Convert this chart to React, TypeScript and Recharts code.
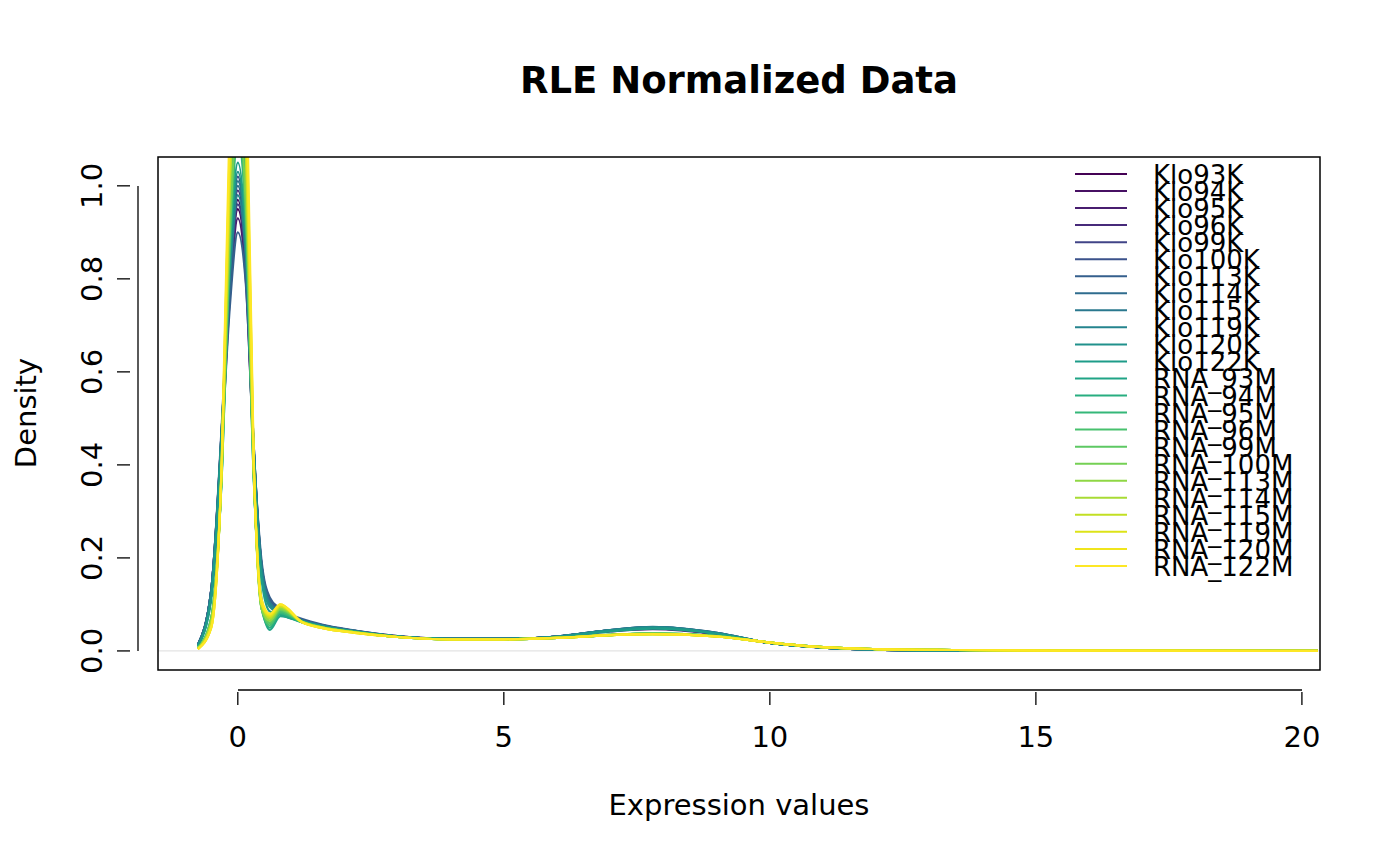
import { LineChart, Line, XAxis, YAxis, ReferenceLine } from 'recharts'

const xGrid = [-0.75, -0.5, -0.3, -0.15, 0, 0.15, 0.3, 0.45, 0.6, 0.8, 1.2, 1.6, 2.2, 3, 4, 5, 6, 7, 7.8, 9, 10, 11, 12, 13.5, 16, 20.3]

const sampleNames = [
  'Klo93K', 'Klo94K', 'Klo95K', 'Klo96K', 'Klo99K', 'Klo100K', 'Klo113K', 'Klo114K', 'Klo115K', 'Klo119K', 'Klo120K', 'Klo122K',
  'RNA_93M', 'RNA_94M', 'RNA_95M', 'RNA_96M', 'RNA_99M', 'RNA_100M', 'RNA_113M', 'RNA_114M', 'RNA_115M', 'RNA_119M', 'RNA_120M', 'RNA_122M',
]

const colors = [
  '#440154', '#471063', '#481D6F', '#472A7A', '#414487', '#3B528B', '#355F8D', '#2F6C8E', '#2A788E', '#25848E', '#21918C', '#1E9C89',
  '#20A486', '#28AE80', '#35B779', '#48C16E', '#5DC863', '#75D054', '#8FD744', '#A8DB34', '#C2DF23', '#DDE318', '#F0E51C', '#FDE725',
]

// density values per sample, one per xGrid point
const densities = [
  [0.012, 0.12, 0.46, 0.78, 0.95, 0.82, 0.42, 0.17, 0.105, 0.085, 0.066, 0.054, 0.042, 0.031, 0.026, 0.026, 0.031, 0.043, 0.048, 0.037, 0.017, 0.007, 0.003, 0.001, 0.0003, 0],
  [0.013, 0.13, 0.47, 0.79, 0.97, 0.83, 0.43, 0.17, 0.100, 0.082, 0.065, 0.053, 0.041, 0.031, 0.026, 0.026, 0.031, 0.044, 0.049, 0.037, 0.017, 0.007, 0.003, 0.001, 0.0003, 0],
  [0.012, 0.12, 0.45, 0.76, 0.93, 0.80, 0.42, 0.18, 0.110, 0.088, 0.067, 0.055, 0.043, 0.032, 0.026, 0.026, 0.030, 0.042, 0.047, 0.036, 0.017, 0.007, 0.003, 0.001, 0.0003, 0],
  [0.013, 0.13, 0.48, 0.81, 0.99, 0.85, 0.43, 0.17, 0.102, 0.084, 0.066, 0.054, 0.042, 0.031, 0.026, 0.026, 0.031, 0.044, 0.050, 0.038, 0.017, 0.007, 0.003, 0.001, 0.0003, 0],
  [0.012, 0.12, 0.46, 0.78, 0.96, 0.83, 0.43, 0.18, 0.108, 0.087, 0.067, 0.055, 0.043, 0.031, 0.026, 0.026, 0.031, 0.043, 0.049, 0.037, 0.017, 0.007, 0.003, 0.001, 0.0003, 0],
  [0.013, 0.13, 0.49, 0.83, 1.02, 0.87, 0.44, 0.17, 0.100, 0.082, 0.065, 0.053, 0.042, 0.031, 0.026, 0.026, 0.031, 0.044, 0.050, 0.038, 0.017, 0.007, 0.003, 0.001, 0.0003, 0],
  [0.014, 0.13, 0.45, 0.74, 0.90, 0.79, 0.43, 0.19, 0.115, 0.090, 0.069, 0.056, 0.044, 0.032, 0.026, 0.026, 0.031, 0.045, 0.051, 0.039, 0.017, 0.007, 0.003, 0.001, 0.0003, 0],
  [0.013, 0.13, 0.48, 0.82, 1.00, 0.86, 0.44, 0.18, 0.105, 0.085, 0.066, 0.054, 0.043, 0.031, 0.026, 0.026, 0.031, 0.045, 0.051, 0.039, 0.017, 0.007, 0.003, 0.001, 0.0003, 0],
  [0.012, 0.13, 0.48, 0.82, 1.01, 0.87, 0.44, 0.18, 0.104, 0.084, 0.066, 0.054, 0.043, 0.031, 0.026, 0.026, 0.031, 0.045, 0.052, 0.039, 0.017, 0.007, 0.003, 0.001, 0.0003, 0],
  [0.012, 0.12, 0.47, 0.80, 0.98, 0.85, 0.43, 0.17, 0.100, 0.083, 0.065, 0.054, 0.042, 0.031, 0.026, 0.026, 0.031, 0.044, 0.051, 0.038, 0.017, 0.007, 0.003, 0.001, 0.0003, 0],
  [0.011, 0.12, 0.48, 0.84, 1.03, 0.88, 0.43, 0.16, 0.095, 0.080, 0.064, 0.053, 0.042, 0.031, 0.026, 0.026, 0.031, 0.044, 0.050, 0.038, 0.017, 0.007, 0.003, 0.001, 0.0003, 0],
  [0.010, 0.11, 0.47, 0.85, 1.05, 0.89, 0.42, 0.15, 0.085, 0.078, 0.063, 0.052, 0.041, 0.031, 0.026, 0.026, 0.030, 0.042, 0.048, 0.037, 0.017, 0.007, 0.003, 0.001, 0.0003, 0],
  [0.006, 0.07, 0.38, 0.88, 1.12, 0.94, 0.37, 0.10, 0.045, 0.075, 0.062, 0.051, 0.041, 0.031, 0.025, 0.025, 0.028, 0.034, 0.037, 0.032, 0.018, 0.008, 0.004, 0.002, 0.0005, 0],
  [0.006, 0.07, 0.39, 0.93, 1.20, 1.00, 0.38, 0.09, 0.050, 0.080, 0.062, 0.050, 0.040, 0.030, 0.025, 0.025, 0.028, 0.034, 0.037, 0.032, 0.018, 0.008, 0.004, 0.002, 0.0005, 0],
  [0.007, 0.07, 0.38, 0.86, 1.10, 0.92, 0.37, 0.11, 0.060, 0.082, 0.063, 0.051, 0.041, 0.031, 0.025, 0.025, 0.028, 0.035, 0.038, 0.032, 0.018, 0.008, 0.004, 0.002, 0.0005, 0],
  [0.006, 0.06, 0.39, 0.96, 1.25, 1.04, 0.38, 0.09, 0.055, 0.085, 0.062, 0.050, 0.040, 0.030, 0.025, 0.025, 0.028, 0.034, 0.037, 0.032, 0.018, 0.008, 0.004, 0.002, 0.0005, 0],
  [0.005, 0.06, 0.40, 0.99, 1.30, 1.08, 0.39, 0.09, 0.060, 0.088, 0.062, 0.050, 0.040, 0.030, 0.025, 0.025, 0.028, 0.034, 0.037, 0.032, 0.018, 0.008, 0.004, 0.002, 0.0005, 0],
  [0.006, 0.07, 0.39, 0.90, 1.15, 0.96, 0.38, 0.10, 0.065, 0.090, 0.063, 0.050, 0.040, 0.030, 0.025, 0.025, 0.028, 0.035, 0.038, 0.032, 0.018, 0.008, 0.004, 0.002, 0.0005, 0],
  [0.005, 0.06, 0.40, 1.04, 1.40, 1.16, 0.39, 0.09, 0.065, 0.092, 0.062, 0.049, 0.040, 0.030, 0.025, 0.025, 0.028, 0.034, 0.036, 0.031, 0.018, 0.008, 0.004, 0.002, 0.0005, 0],
  [0.005, 0.06, 0.40, 1.02, 1.35, 1.12, 0.39, 0.10, 0.070, 0.095, 0.063, 0.050, 0.040, 0.030, 0.025, 0.025, 0.028, 0.034, 0.036, 0.031, 0.018, 0.008, 0.004, 0.002, 0.0005, 0],
  [0.005, 0.06, 0.40, 0.99, 1.30, 1.08, 0.39, 0.10, 0.072, 0.096, 0.063, 0.050, 0.040, 0.030, 0.025, 0.025, 0.028, 0.034, 0.036, 0.031, 0.018, 0.008, 0.004, 0.002, 0.0005, 0],
  [0.004, 0.05, 0.41, 1.10, 1.50, 1.24, 0.40, 0.10, 0.075, 0.098, 0.062, 0.049, 0.039, 0.030, 0.025, 0.025, 0.028, 0.034, 0.036, 0.031, 0.018, 0.008, 0.004, 0.002, 0.0005, 0],
  [0.004, 0.05, 0.41, 1.08, 1.45, 1.20, 0.40, 0.10, 0.078, 0.100, 0.063, 0.049, 0.039, 0.030, 0.025, 0.025, 0.028, 0.034, 0.036, 0.031, 0.018, 0.008, 0.004, 0.002, 0.0005, 0],
  [0.004, 0.05, 0.42, 1.16, 1.60, 1.32, 0.41, 0.11, 0.080, 0.100, 0.062, 0.049, 0.039, 0.030, 0.025, 0.025, 0.028, 0.034, 0.036, 0.031, 0.018, 0.008, 0.004, 0.002, 0.0005, 0],
]

const xTicks = [0, 5, 10, 15, 20]
const yTicks = [0, 0.2, 0.4, 0.6, 0.8, 1.0]

const chartData = xGrid.map((x, i) => {
  const row: Record<string, number> = { x }
  sampleNames.forEach((name, s) => {
    row[name] = densities[s][i]
  })
  return row
})

const FONT = 'DejaVu Sans, sans-serif'

function XTick(props: any) {
  const { x, y, payload } = props
  return (
    <g>
      <line x1={x} y1={y + 14} x2={x} y2={y + 27} stroke="#000" strokeWidth={1.3} />
      <text x={x} y={y + 69} textAnchor="middle" fontSize={29} fontFamily={FONT} fill="#000">
        {payload.value}
      </text>
    </g>
  )
}

function YTick(props: any) {
  const { x, y, payload } = props
  return (
    <g>
      <line x1={x - 20} y1={y} x2={x - 33} y2={y} stroke="#000" strokeWidth={1.3} />
      <text
        x={x - 44}
        y={y}
        textAnchor="middle"
        fontSize={29}
        fontFamily={FONT}
        fill="#000"
        transform={`rotate(-90 ${x - 44} ${y})`}
        dy={-4}
      >
        {payload.value.toFixed(1)}
      </text>
    </g>
  )
}

export default function App() {
  return (
    <div style={{ position: 'absolute', left: 0, top: 0, width: 1400, height: 866, background: '#fff', fontFamily: FONT }}>
      <LineChart width={1400} height={866} data={chartData} margin={{ top: 157, right: 80, bottom: 0, left: 0 }}>
        <XAxis
          dataKey="x"
          type="number"
          domain={[-1.5, 20.34]}
          ticks={xTicks}
          allowDataOverflow
          axisLine={false}
          tickLine={false}
          tick={<XTick />}
          height={196}
          interval={0}
        />
        <YAxis
          type="number"
          domain={[-0.041, 1.062]}
          ticks={yTicks}
          allowDataOverflow
          axisLine={false}
          tickLine={false}
          tick={<YTick />}
          width={158}
          interval={0}
        />
        <ReferenceLine y={0} stroke="#e3e3e3" strokeWidth={1.3} />
        {sampleNames.map((name, s) => (
          <Line
            key={name}
            dataKey={name}
            type="monotone"
            stroke={colors[s]}
            strokeWidth={2.2}
            dot={false}
            isAnimationActive={false}
          />
        ))}
      </LineChart>
      <svg width={1400} height={866} style={{ position: 'absolute', left: 0, top: 0, pointerEvents: 'none' }}>
        <rect x={158} y={157} width={1162} height={513} fill="none" stroke="#000" strokeWidth={1.5} />
        <line x1={238} y1={690} x2={1302} y2={690} stroke="#000" strokeWidth={1.3} />
        <line x1={138} y1={186} x2={138} y2={651} stroke="#000" strokeWidth={1.3} />
        <text x={739} y={93} textAnchor="middle" fontSize={37} fontWeight="bold" fontFamily={FONT}>
          RLE Normalized Data
        </text>
        <text x={739} y={815} textAnchor="middle" fontSize={29} fontFamily={FONT}>
          Expression values
        </text>
        <text x={36} y={413} textAnchor="middle" fontSize={29} fontFamily={FONT} transform="rotate(-90 36 413)">
          Density
        </text>
        {sampleNames.map((name, s) => (
          <g key={name}>
            <line x1={1075} y1={174 + s * 17.04} x2={1127} y2={174 + s * 17.04} stroke={colors[s]} strokeWidth={2} />
            <text x={1153} y={174 + s * 17.04 + 10} fontSize={26} fontFamily={FONT}>
              {name}
            </text>
          </g>
        ))}
      </svg>
    </div>
  )
}
